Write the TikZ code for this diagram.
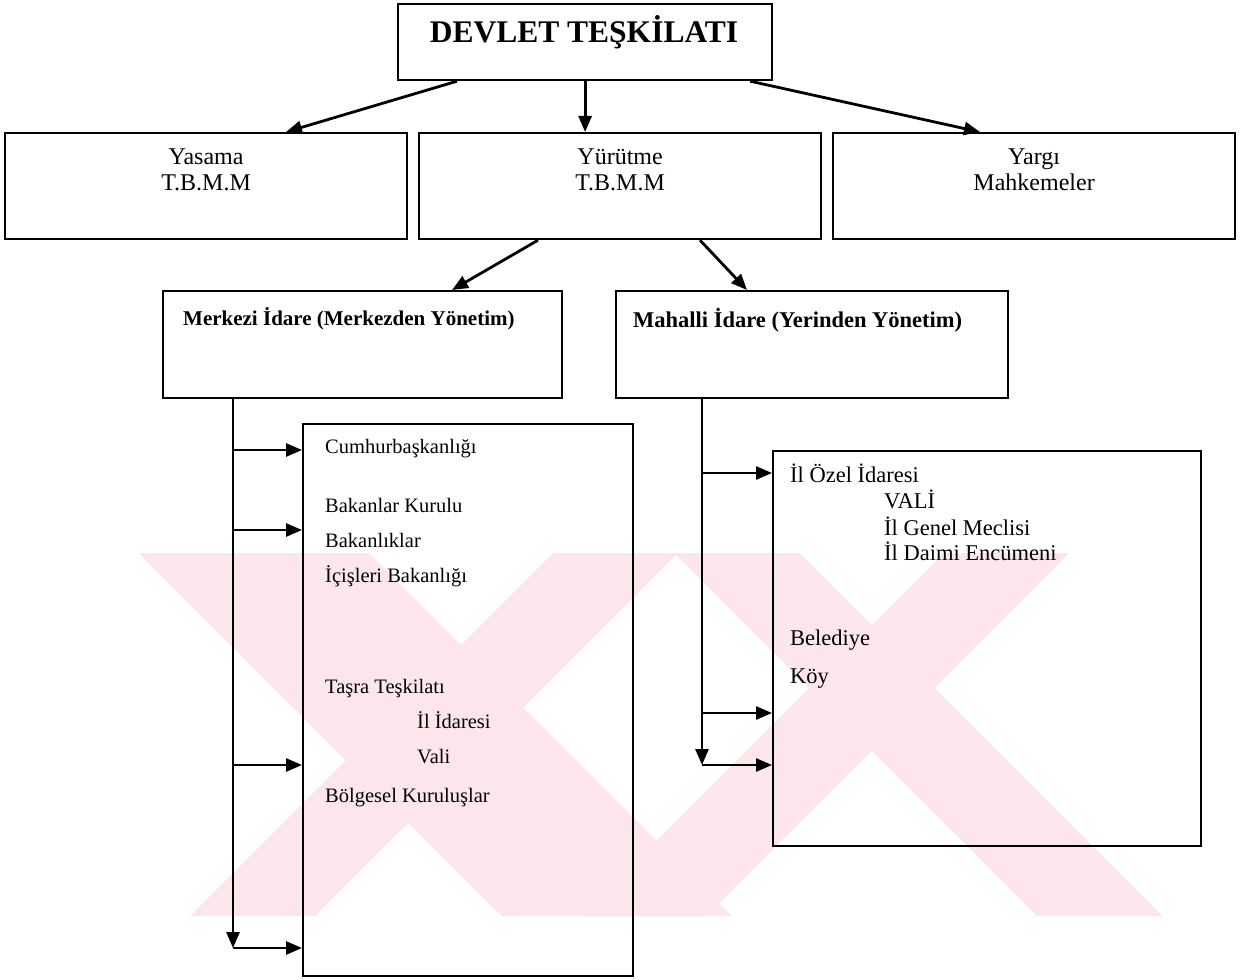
\documentclass[tikz,border=0pt]{standalone}
\usepackage{fontspec}
\setmainfont{Liberation Serif}
\usetikzlibrary{arrows.meta,positioning}
\definecolor{wmpink}{RGB}{253,230,235}

\begin{document}
\begin{tikzpicture}[x=1pt, y=-1pt,
  box/.style={rectangle, draw, line width=2.2pt, anchor=north west, inner sep=0pt},
  arr/.style={-{Triangle[length=16pt,width=13pt]}, line width=2.8pt},
  lbl/.style={anchor=base, inner sep=0pt, font=\fontsize{24}{28}\selectfont},
  head/.style={anchor=base west, inner sep=0pt, font=\bfseries\fontsize{21}{25}\selectfont},
  item/.style={anchor=base west, inner sep=0pt, font=\fontsize{20.5}{24}\selectfont},
  ritem/.style={anchor=base west, inner sep=0pt, font=\fontsize{22.5}{27}\selectfont}
]
\fill[white] (0,0) rectangle (1246,979);
\useasboundingbox (0,0) rectangle (1246,979);

% watermark band
\begin{scope}
  \clip (0,553) rectangle (1246,916);
  \foreach \a/\w/\d in {139/230/1, 553/125/-1, 674/125/1, 944/125/-1}
    \fill[wmpink] (\a,553) -- ++(\w,0) -- ++(\d*363,363) -- ++(-\w,0) -- cycle;
\end{scope}

% top
\node[box, minimum width=374pt, minimum height=76pt] (devlet) at (397,3) {};
\node[anchor=base, inner sep=0pt, font=\bfseries\fontsize{31.5}{36}\selectfont] (devletT) at (584,43) {DEVLET TEŞKİLATI};

% three powers
\node[box, minimum width=402pt, minimum height=106pt] (yasama) at (4,132) {};
\node[box, minimum width=402pt, minimum height=106pt] (yurutme) at (418,132) {};
\node[box, minimum width=402pt, minimum height=106pt] (yargi) at (832,132) {};
\node[lbl] (yasamaA) at ([yshift=-32pt]yasama.north) {Yasama};
\node[lbl] (yasamaB) at ([yshift=-58pt]yasama.north) {T.B.M.M};
\node[lbl] (yurutmeA) at ([yshift=-32pt]yurutme.north) {Yürütme};
\node[lbl] (yurutmeB) at ([yshift=-58pt]yurutme.north) {T.B.M.M};
\node[lbl] (yargiA) at ([yshift=-32pt]yargi.north) {Yargı};
\node[lbl] (yargiB) at ([yshift=-58pt]yargi.north) {Mahkemeler};

% administration
\node[box, minimum width=399pt, minimum height=107pt] (merkezi) at (162,290) {};
\node[box, minimum width=392pt, minimum height=107pt] (mahalli) at (615,290) {};
\node[head] (merkeziT) at ([xshift=21pt, yshift=-35pt]merkezi.north west) {Merkezi İdare (Merkezden Yönetim)};
\node[head, font=\bfseries\fontsize{22.5}{27}\selectfont] (mahalliT) at ([xshift=18pt, yshift=-37pt]mahalli.north west) {Mahalli İdare (Yerinden Yönetim)};

\node[box, minimum width=330pt, minimum height=552pt] (merkList) at (302,423) {};
\node[box, minimum width=428pt, minimum height=395pt] (mahList) at (772,450) {};

\node[item] (cumhur) at (325,453) {Cumhurbaşkanlığı};
\node[item] (bakKur) at (325,512) {Bakanlar Kurulu};
\node[item] (bakan) at (325,547) {Bakanlıklar};
\node[item] (icisleri) at (325,582) {İçişleri Bakanlığı};
\node[item] (tasra) at (325,693) {Taşra Teşkilatı};
\node[item] (ilIdare) at (417,728) {İl İdaresi};
\node[item] (vali) at (417,763) {Vali};
\node[item] (bolge) at (325,802) {Bölgesel Kuruluşlar};

\node[ritem] (ozel) at (790,482) {İl Özel İdaresi};
\node[ritem] (valiB) at (884,508) {VALİ};
\node[ritem] (meclis) at (884,535) {İl Genel Meclisi};
\node[ritem] (encumen) at (884,560) {İl Daimi Encümeni};
\node[ritem] (beled) at (790,645) {Belediye};
\node[ritem] (koy) at (790,683) {Köy};

% arrows
\draw[arr] ([xshift=60pt]devlet.south west) -- ([xshift=282pt]yasama.north west);
\draw[arr] (devlet.south) -- (devlet.south |- yurutme.north);
\draw[arr] ([xshift=-23pt]devlet.south east) -- ([xshift=148pt]yargi.north west);
\draw[arr] ([xshift=120pt]yurutme.south west) -- ([xshift=290pt]merkezi.north west);
\draw[arr] ([xshift=282pt]yurutme.south west) -- ([xshift=132pt]mahalli.north west);

\coordinate (mkEnd) at (233,948);
\draw[arr] ([xshift=71pt]merkezi.south west) -- (mkEnd);
\draw[arr] (mkEnd) -- (mkEnd -| merkList.west);
\foreach \y in {450,530,765}
  \draw[arr] (mkEnd |- 0,\y) -- (merkList.west |- 0,\y);

\coordinate (mhEnd) at (702,765);
\draw[arr] ([xshift=87pt]mahalli.south west) -- (mhEnd);
\draw[arr] (mhEnd) -- (mhEnd -| mahList.west);
\foreach \y in {473,713}
  \draw[arr] (mhEnd |- 0,\y) -- (mahList.west |- 0,\y);
\end{tikzpicture}
\end{document}
